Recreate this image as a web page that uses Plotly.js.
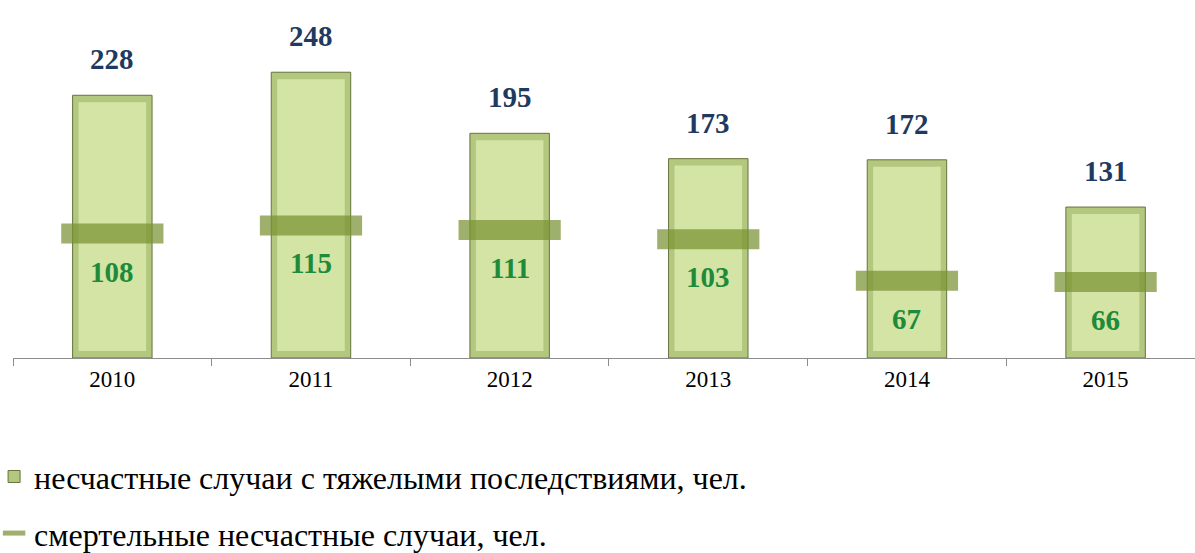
<!DOCTYPE html>
<html><head><meta charset="utf-8">
<script src="https://cdn.plot.ly/plotly-3.0.1.min.js"></script>
<style>html,body{margin:0;padding:0;overflow:hidden;background:#fff}</style>
</head><body><div id="chart" style="width:1195px;height:553px"></div>
<script>
const years = ['2010','2011','2012','2013','2014','2015'];
const severeCases = [228, 248, 195, 173, 172, 131];
const fatalCases = [108, 115, 111, 103, 67, 66];
const severeName = 'несчастные случаи с тяжелыми последствиями, чел.';
const fatalName = 'смертельные несчастные случаи, чел.';

const serif = 'Liberation Serif, serif';
const bevel = 6;

const traces = [
  {type:'bar', x:years, y:severeCases, name:severeName, width:0.40,
   marker:{color:'#b4c77f', line:{color:'#65743b', width:1}},
   legendgroup:'a', hoverinfo:'y'},
  {type:'bar', x:years, y:severeCases.map(v=>v-2*bevel), base:severeCases.map(()=>bevel), width:0.34,
   marker:{color:'#d3e4a5', line:{width:0}}, showlegend:false, hoverinfo:'skip'},
  {type:'scatter', mode:'markers', x:years, y:fatalCases, name:fatalName,
   marker:{symbol:'line-ew', size:73, color:'rgba(120,145,50,0.72)',
           line:{color:'rgba(120,145,50,0.72)', width:20}},
   legendgroup:'b', hoverinfo:'y'}
];

const annotations = [];
years.forEach((yr,i)=>{
  annotations.push({x:i, y:severeCases[i], xref:'x', yref:'y', text:String(severeCases[i]),
    showarrow:false, yshift:36, font:{family:serif, size:29, color:'#1f3a60', weight:'bold'}});
  annotations.push({x:i, y:fatalCases[i], xref:'x', yref:'y', text:String(fatalCases[i]),
    showarrow:false, yshift:-38, font:{family:serif, size:29, color:'#1e8a3a', weight:'bold'}});
});

const layout = {
  width:1195, height:553,
  margin:{l:13, r:0, t:10, b:195, autoexpand:false},
  paper_bgcolor:'#fff', plot_bgcolor:'#fff',
  barmode:'overlay',
  showlegend:true,
  legend:{xref:'paper', yref:'paper', x:-0.016, y:-0.262, xanchor:'left', yanchor:'top',
    font:{family:serif, size:32, color:'#000'}, traceorder:'grouped', tracegroupgap:12,
    itemwidth:30, bgcolor:'rgba(0,0,0,0)'},
  xaxis:{type:'category', range:[-0.5, 5.45], tickson:'boundaries', ticks:'outside', ticklen:7,
    tickcolor:'#8c8c8c', showline:true, linecolor:'#8c8c8c', linewidth:1, showgrid:false,
    tickfont:{family:serif, size:23, color:'#000'}, fixedrange:true},
  yaxis:{range:[0, 302], visible:false, showgrid:false, zeroline:false, fixedrange:true},
  annotations:annotations
};

Plotly.newPlot('chart', traces, layout, {displayModeBar:false, staticPlot:true});
</script></body></html>
